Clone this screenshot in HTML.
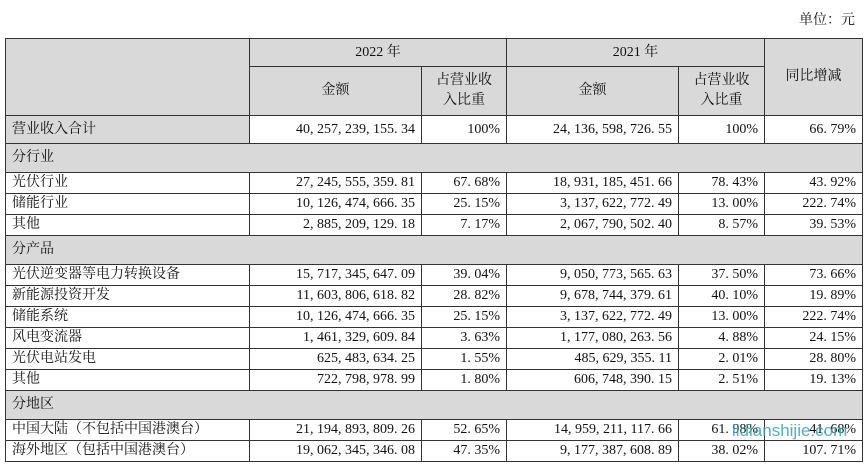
<!DOCTYPE html>
<html><head><meta charset="utf-8"><style>
body{margin:0;width:865px;height:464px;background:#fff;position:relative;overflow:hidden;font-family:"Liberation Serif","Noto Serif CJK SC",serif;font-size:14px;color:#111}
.u{position:absolute;right:10px;top:9px;font-size:14px}
table{position:absolute;left:5px;top:38px;border-collapse:collapse;table-layout:fixed}
td{border:1px solid #333;padding:0 6px;white-space:nowrap;height:20px;line-height:20px}
.g{background:#d9d9d9}
.c{text-align:center}
.r{text-align:right}
.h1{height:27px}
.h2{height:48px;line-height:20px}
.s{height:27px}
.t{height:28px}
.wm{position:absolute;left:732px;top:421px;font-family:"Liberation Sans","DejaVu Sans",sans-serif;font-size:17px;color:#3a9fb0;opacity:.85}
</style></head><body>
<div class="u">单位：元</div>
<table>
<col style="width:244px"><col style="width:172px"><col style="width:85px"><col style="width:172px"><col style="width:86px"><col style="width:98px">
<tr class="g"><td rowspan="2"></td><td colspan="2" class="c h1">2022 年</td><td colspan="2" class="c h1">2021 年</td><td rowspan="2" class="c">同比增减</td></tr>
<tr class="g"><td class="c h2">金额</td><td class="c h2">占营业收<br>入比重</td><td class="c h2">金额</td><td class="c h2">占营业收<br>入比重</td></tr>
<tr><td class="g s">营业收入合计</td><td class="r">40, 257, 239, 155. 34</td><td class="r">100%</td><td class="r">24, 136, 598, 726. 55</td><td class="r">100%</td><td class="r">66. 79%</td></tr>
<tr class="g"><td colspan="6" class="t">分行业</td></tr>
<tr><td>光伏行业</td><td class="r">27, 245, 555, 359. 81</td><td class="r">67. 68%</td><td class="r">18, 931, 185, 451. 66</td><td class="r">78. 43%</td><td class="r">43. 92%</td></tr>
<tr><td>储能行业</td><td class="r">10, 126, 474, 666. 35</td><td class="r">25. 15%</td><td class="r">3, 137, 622, 772. 49</td><td class="r">13. 00%</td><td class="r">222. 74%</td></tr>
<tr><td>其他</td><td class="r">2, 885, 209, 129. 18</td><td class="r">7. 17%</td><td class="r">2, 067, 790, 502. 40</td><td class="r">8. 57%</td><td class="r">39. 53%</td></tr>
<tr class="g"><td colspan="6" class="t">分产品</td></tr>
<tr><td>光伏逆变器等电力转换设备</td><td class="r">15, 717, 345, 647. 09</td><td class="r">39. 04%</td><td class="r">9, 050, 773, 565. 63</td><td class="r">37. 50%</td><td class="r">73. 66%</td></tr>
<tr><td>新能源投资开发</td><td class="r">11, 603, 806, 618. 82</td><td class="r">28. 82%</td><td class="r">9, 678, 744, 379. 61</td><td class="r">40. 10%</td><td class="r">19. 89%</td></tr>
<tr><td>储能系统</td><td class="r">10, 126, 474, 666. 35</td><td class="r">25. 15%</td><td class="r">3, 137, 622, 772. 49</td><td class="r">13. 00%</td><td class="r">222. 74%</td></tr>
<tr><td>风电变流器</td><td class="r">1, 461, 329, 609. 84</td><td class="r">3. 63%</td><td class="r">1, 177, 080, 263. 56</td><td class="r">4. 88%</td><td class="r">24. 15%</td></tr>
<tr><td>光伏电站发电</td><td class="r">625, 483, 634. 25</td><td class="r">1. 55%</td><td class="r">485, 629, 355. 11</td><td class="r">2. 01%</td><td class="r">28. 80%</td></tr>
<tr><td>其他</td><td class="r">722, 798, 978. 99</td><td class="r">1. 80%</td><td class="r">606, 748, 390. 15</td><td class="r">2. 51%</td><td class="r">19. 13%</td></tr>
<tr class="g"><td colspan="6" class="t">分地区</td></tr>
<tr><td>中国大陆（不包括中国港澳台）</td><td class="r">21, 194, 893, 809. 26</td><td class="r">52. 65%</td><td class="r">14, 959, 211, 117. 66</td><td class="r">61. 98%</td><td class="r">41. 68%</td></tr>
<tr><td>海外地区（包括中国港澳台）</td><td class="r">19, 062, 345, 346. 08</td><td class="r">47. 35%</td><td class="r">9, 177, 387, 608. 89</td><td class="r">38. 02%</td><td class="r">107. 71%</td></tr>
</table>
<div class="wm">lidianshijie.com</div>
</body></html>
